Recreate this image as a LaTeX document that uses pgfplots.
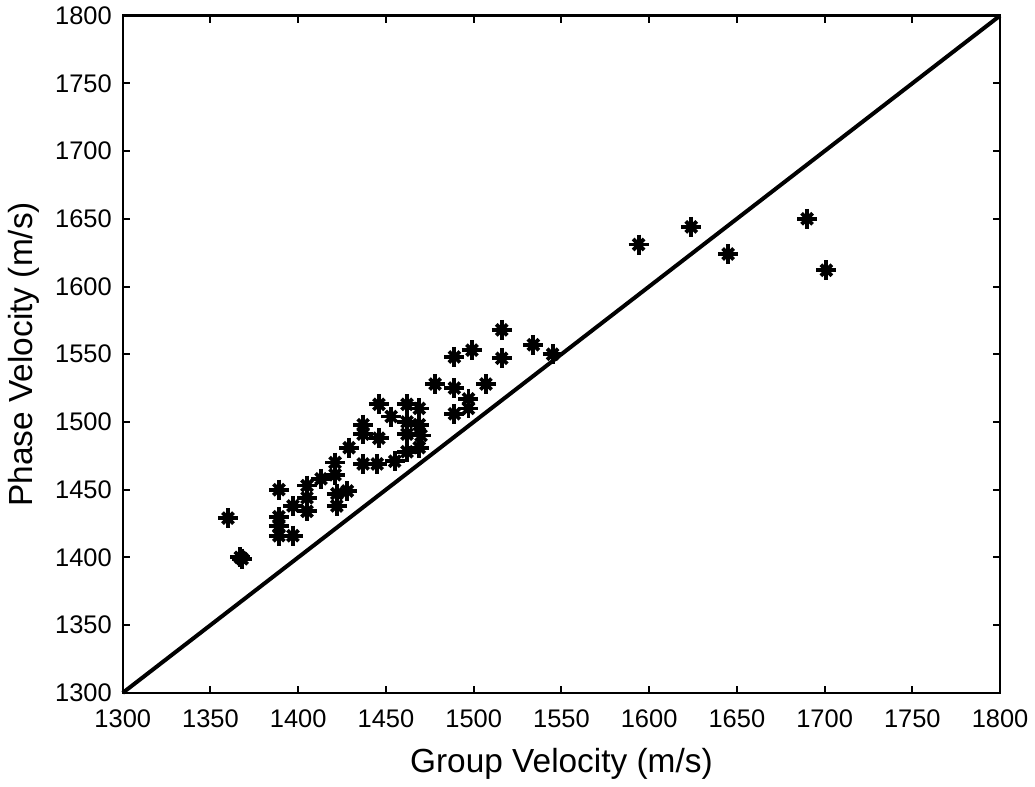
\documentclass[border=0pt]{standalone}
\usepackage{pgfplots}
\pgfplotsset{compat=1.18}
\usepackage{pgfplotstable}
\usepackage{fontspec}
\setmainfont{Liberation Sans}
\pgfplotstableread{
x y
1360 1429
1367 1400
1368 1399
1389 1450
1389 1430
1389 1423
1389 1416
1397 1416
1397 1438
1405 1453
1405 1444
1405 1434
1413 1458
1421 1470
1421 1461
1422 1447
1422 1438
1428 1449
1429 1481
1437 1469
1446 1513
1437 1498
1437 1491
1446 1488
1453 1504
1462 1513
1462 1500
1462 1491
1469 1510
1469 1498
1469 1481
1445 1469
1455 1471
1462 1478
1470 1490
1489 1525
1489 1506
1497 1517
1497 1510
1507 1528
1478 1528
1516 1568
1499 1553
1489 1548
1516 1547
1534 1557
1545 1550
1594 1631
1624 1644
1645 1624
1690 1650
1701 1612
}\datatable
\begin{document}
\begin{tikzpicture}
\path (-61.5bp,-46bp) rectangle (456bp,346bp);
\begin{axis}[
  scale only axis,
  width=439.5bp, height=339.25bp,
  xmin=1300, xmax=1800, ymin=1300, ymax=1800,
  xtick={1300,1350,...,1800}, ytick={1300,1350,...,1800},
  tick align=inside, tickpos=both,
  major tick length=3.5bp,
  axis line style={line width=1.2bp},
  every tick/.style={line width=1bp, black},
  tick label style={font=\fontsize{12.8}{14}\selectfont},
  yticklabel style={xshift=-2bp},
  xticklabel style={yshift=-5bp},
  /pgf/number format/assume math mode=true,
  /pgf/number format/1000 sep={},
  xlabel={Group Velocity (m/s)}, ylabel={Phase Velocity (m/s)},
  label style={font=\fontsize{16.8}{19}\selectfont},
  xlabel style={yshift=-3.5bp},
  ylabel style={yshift=1bp},
  clip=false,
]
\addplot[black, line width=2bp] coordinates {(1300,1300) (1800,1800)};
\addplot[only marks, mark=+, mark size=5bp, mark options={line width=1.9bp, black}] table {\datatable};
\addplot[only marks, mark=x, mark size=3.9bp, mark options={line width=1.9bp, black}] table {\datatable};
\end{axis}
\end{tikzpicture}
\end{document}
